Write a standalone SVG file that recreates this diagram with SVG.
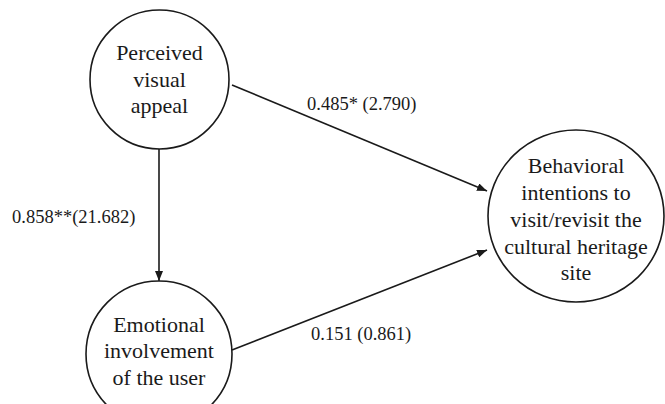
<svg xmlns="http://www.w3.org/2000/svg" width="665" height="404" viewBox="0 0 665 404">
<style>
.node{fill:#fff;stroke:#1a1a1a;stroke-width:1.6}
.t{font-family:'Liberation Serif','Times New Roman',Tinos,'DejaVu Serif','Noto Serif',serif;font-size:22px;fill:#1a1a1a;text-anchor:middle}
.lbl{font-family:'Liberation Serif','Times New Roman',Tinos,'DejaVu Serif','Noto Serif',serif;font-size:18.5px;fill:#1a1a1a}
.edge{stroke:#1a1a1a;stroke-width:1.6;fill:none;marker-end:url(#arr)}
</style>
<defs>
<marker id="arr" viewBox="0 0 10 8" refX="10" refY="4" markerWidth="10" markerHeight="8" markerUnits="userSpaceOnUse" orient="auto">
<path d="M0,0 L10,4 L0,8 Z" fill="#1a1a1a"/>
</marker>
</defs>
<rect width="665" height="404" fill="#fff"/>
<g id="connectors">
<line class="edge" x1="159" y1="148" x2="159" y2="281"/>
<line class="edge" x1="232" y1="85" x2="487" y2="191"/>
<line class="edge" x1="232" y1="350" x2="487" y2="250"/>
</g>
<g id="labels">
<text class="lbl" x="307" y="110" font-family="Liberation Serif, serif">0.485* (2.790)</text>
<text class="lbl" x="12" y="223">0.858**(21.682)</text>
<text class="lbl" x="311" y="340">0.151 (0.861)</text>
</g>
<g id="perceived">
<circle class="node" cx="159.5" cy="79.5" r="69.5"/>
<text class="t" x="159.5" y="60">Perceived</text>
<text class="t" x="159.5" y="87">visual</text>
<text class="t" x="159.5" y="113">appeal</text>
</g>
<g id="emotional">
<circle class="node" cx="159" cy="354" r="73"/>
<text class="t" x="159" y="332">Emotional</text>
<text class="t" x="159" y="358">involvement</text>
<text class="t" x="159" y="385">of the user</text>
</g>
<g id="behavioral">
<ellipse class="node" cx="576" cy="216" rx="88" ry="86"/>
<text class="t" x="576" y="173">Behavioral</text>
<text class="t" x="576" y="200">intentions to</text>
<text class="t" x="576" y="227">visit/revisit the</text>
<text class="t" x="576" y="254">cultural heritage</text>
<text class="t" x="576" y="280">site</text>
</g>
</svg>
